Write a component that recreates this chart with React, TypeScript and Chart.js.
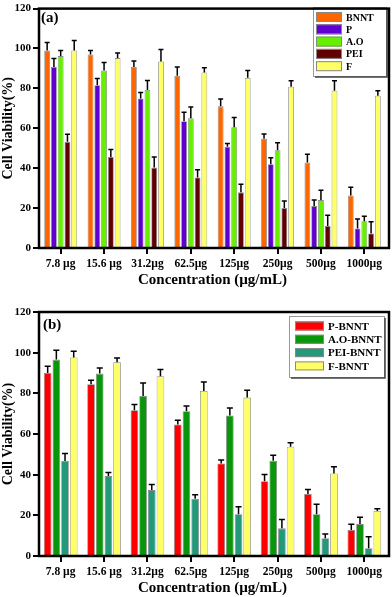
import React, { useEffect, useRef } from "react";
import { Chart, registerables } from "chart.js";
Chart.register(...registerables);

const categories = ["7.8 µg", "15.6 µg", "31.2µg", "62.5µg", "125µg", "250µg", "500µg", "1000µg"];
const yMin = 0;
const yMax = 120;
const yStep = 20;

// Panel (a)
const seriesA = ["BNNT", "P", "A.O", "PEI", "F"];
const aBNNT = [99, 97, 90.7, 86.3, 71, 54.7, 42.8, 26.3];
const aBNNTErr = [4, 2, 3, 4.4, 3.7, 2.5, 4.2, 4.1];
const aP = [90.7, 81.6, 75, 63.5, 50.7, 42, 21, 9.8];
const aPErr = [4.3, 3.4, 3, 4.5, 1.7, 3.3, 3, 4.7];
const aAO = [96.2, 89, 79.2, 65, 60.5, 49, 24, 13.4];
const aAOErr = [2.8, 4, 4.8, 5.7, 4.9, 3.7, 5, 2.5];
const aPEI = [53.2, 45.6, 40.3, 35.4, 27.9, 20, 11, 7.3];
const aPEIErr = [3.8, 3.8, 5.3, 3.8, 4.1, 3.5, 5.4, 5.9];
const aF = [99, 95.2, 93.5, 88, 85.3, 80.8, 78.8, 76.3];
const aFErr = [5, 2.6, 6, 2.4, 3.7, 3, 5, 2.5];
const colorsA = ["#FF6600", "#6000D0", "#66F000", "#600000", "#FFFF66"];

// Panel (b)
const seriesB = ["P-BNNT", "A.O-BNNT", "PEI-BNNT", "F-BNNT"];
const bP = [90, 84.5, 71.7, 64.7, 45.5, 36.8, 30.5, 12.8];
const bPErr = [3.3, 1.9, 2.8, 2.1, 1.7, 3.3, 2.2, 2.8];
const bAO = [96.6, 89.7, 78.7, 71.2, 69.1, 46.8, 20.5, 15.7];
const bAOErr = [4.6, 2.8, 6.4, 2.6, 3.7, 2.8, 4.9, 3.3];
const bPEI = [46.7, 39.3, 32.4, 28.2, 20.5, 13.6, 8.7, 3.8];
const bPEIErr = [3.7, 1.8, 2.8, 1.9, 3.7, 4.4, 2.1, 5.7];
const bF = [97.6, 95.3, 88.4, 81.2, 77.9, 53.7, 40.6, 22.1];
const bFErr = [3.1, 2.1, 3.3, 4.4, 3.6, 2, 3.3, 1.1];
const colorsB = ["#FF0000", "#0A960A", "#22997A", "#FFFF66"];

const FONT = "'Liberation Serif', 'Times New Roman', serif";

const errorBarPlugin = {
  id: "errorBars",
  afterDatasetsDraw(chart: any, _args: any, opts: any) {
    const ctx = chart.ctx;
    const yScale = chart.scales.y;
    const cap = opts.cap || 5;
    ctx.save();
    ctx.strokeStyle = "#000";
    ctx.lineWidth = 1.5;
    chart.data.datasets.forEach((ds: any, di: number) => {
      const meta = chart.getDatasetMeta(di);
      meta.data.forEach((el: any, i: number) => {
        const v = ds.data[i];
        const e = ds.errors[i];
        const yTop = yScale.getPixelForValue(v + e);
        ctx.beginPath();
        ctx.moveTo(el.x, el.y);
        ctx.lineTo(el.x, yTop);
        ctx.moveTo(el.x - cap / 2, yTop);
        ctx.lineTo(el.x + cap / 2, yTop);
        ctx.stroke();
      });
    });
    ctx.restore();
  },
};

const framePlugin = {
  id: "frame",
  afterDraw(chart: any, _args: any, opts: any) {
    const ctx = chart.ctx;
    const a = chart.chartArea;
    ctx.save();
    // legend
    const lg = opts.legend;
    ctx.fillStyle = "#fff";
    ctx.fillRect(lg.x, lg.y, lg.w, lg.h);
    ctx.strokeStyle = "#999";
    ctx.lineWidth = 1;
    ctx.strokeRect(lg.x + 0.5, lg.y + 0.5, lg.w, lg.h);
    ctx.strokeStyle = "#444";
    ctx.lineWidth = 1.5;
    ctx.beginPath();
    ctx.moveTo(lg.x + lg.w + 1, lg.y + 2);
    ctx.lineTo(lg.x + lg.w + 1, lg.y + lg.h + 1);
    ctx.lineTo(lg.x + 2, lg.y + lg.h + 1);
    ctx.stroke();
    ctx.font = `bold ${lg.fontSize}px ${FONT}`;
    ctx.textBaseline = "middle";
    ctx.textAlign = "left";
    lg.labels.forEach((lab: string, i: number) => {
      const cy = lg.y + lg.firstRow + i * lg.rowGap;
      ctx.fillStyle = lg.colors[i];
      ctx.fillRect(lg.sx, cy - lg.sh / 2, lg.sw, lg.sh);
      ctx.strokeStyle = "#888";
      ctx.lineWidth = 1;
      ctx.strokeRect(lg.sx + 0.5, cy - lg.sh / 2 + 0.5, lg.sw - 1, lg.sh - 1);
      ctx.fillStyle = "#000";
      ctx.fillText(lab, lg.tx, cy + 1);
    });
    // panel label
    ctx.font = `bold 15px ${FONT}`;
    ctx.fillStyle = "#000";
    ctx.fillText(opts.panel.text, opts.panel.x, opts.panel.y);
    // frame
    ctx.strokeStyle = "#000";
    ctx.lineWidth = 2.5;
    ctx.strokeRect(a.left, a.top, a.right + 3 - a.left, a.bottom - a.top);
    ctx.restore();
  },
};

function makeConfig(p: any) {
  return {
    type: "bar",
    data: {
      labels: categories,
      datasets: p.datasets.map((d: any, i: number) => ({
        label: p.names[i],
        data: d.values,
        errors: d.errors,
        backgroundColor: p.colors[i],
        borderColor: "#8a8a8a",
        borderWidth: 0.8,
        categoryPercentage: p.catPct,
        barPercentage: p.barPct,
      })),
    },
    options: {
      responsive: false,
      animation: false,
      devicePixelRatio: 1,
      layout: { padding: p.padding },
      plugins: {
        legend: { display: false },
        tooltip: { enabled: false },
        errorBars: { cap: p.cap },
        frame: { legend: p.legend, panel: p.panel },
      },
      scales: {
        x: {
          grid: { display: true, drawOnChartArea: false, drawTicks: true, tickLength: 6, color: "#000", lineWidth: 2, offset: false },
          border: { display: false },
          ticks: { color: "#000", font: { family: FONT, size: 11.5, weight: "bold" }, padding: 3, maxRotation: 0, autoSkip: false },
          title: { display: true, text: "Concentration (µg/mL)", color: "#000", font: { family: FONT, size: 15, weight: "bold" }, padding: { top: 0, bottom: 0 } },
          afterFit(scale: any) {
            scale.height = 41;
          },
        },
        y: {
          min: yMin,
          max: yMax,
          grid: { display: true, drawOnChartArea: false, drawTicks: true, tickLength: 6, color: "#000", lineWidth: 2 },
          border: { display: false },
          ticks: { stepSize: yStep, color: "#000", font: { family: FONT, size: 11, weight: "bold" }, padding: 2 },
          title: { display: true, text: "Cell Viability(%)", color: "#000", font: { family: FONT, size: 14, weight: "bold" }, padding: { top: 0, bottom: 0 } },
          afterFit(scale: any) {
            scale.width = 39;
          },
        },
      },
    },
    plugins: [errorBarPlugin, framePlugin],
  } as any;
}

function Panel(props: { height: number; cfg: any }) {
  const ref = useRef<HTMLCanvasElement>(null);
  useEffect(() => {
    const chart = new Chart(ref.current as HTMLCanvasElement, makeConfig(props.cfg));
    return () => chart.destroy();
  }, []);
  return <canvas ref={ref} width={392} height={props.height} style={{ display: "block", width: 392, height: props.height }} />;
}

const cfgA = {
  names: seriesA,
  colors: colorsA,
  datasets: [
    { values: aBNNT, errors: aBNNTErr },
    { values: aP, errors: aPErr },
    { values: aAO, errors: aAOErr },
    { values: aPEI, errors: aPEIErr },
    { values: aF, errors: aFErr },
  ],
  catPct: 0.78,
  barPct: 0.86,
  cap: 5,
  padding: { top: 6, right: 6, bottom: 9, left: 0 },
  legend: { x: 313, y: 7, w: 73, h: 69, sx: 316, sw: 26, sh: 10, tx: 346, firstRow: 10, rowGap: 12.3, fontSize: 10, labels: seriesA, colors: colorsA },
  panel: { text: "(a)", x: 41, y: 18 },
};

const cfgB = {
  names: seriesB,
  colors: colorsB,
  datasets: [
    { values: bP, errors: bPErr },
    { values: bAO, errors: bAOErr },
    { values: bPEI, errors: bPEIErr },
    { values: bF, errors: bFErr },
  ],
  catPct: 0.8,
  barPct: 0.88,
  cap: 6,
  padding: { top: 14, right: 6, bottom: 0, left: 0 },
  legend: { x: 289, y: 18, w: 95, h: 61, sx: 295, sw: 29, sh: 9, tx: 328, firstRow: 10, rowGap: 13.3, fontSize: 11, labels: seriesB, colors: colorsB },
  panel: { text: "(b)", x: 43, y: 27 },
};

export default function App() {
  useEffect(() => {
    document.body.style.margin = "0";
  }, []);
  return (
    <div style={{ width: 392, height: 597, background: "#fff" }}>
      <Panel height={298} cfg={cfgA} />
      <Panel height={299} cfg={cfgB} />
    </div>
  );
}
